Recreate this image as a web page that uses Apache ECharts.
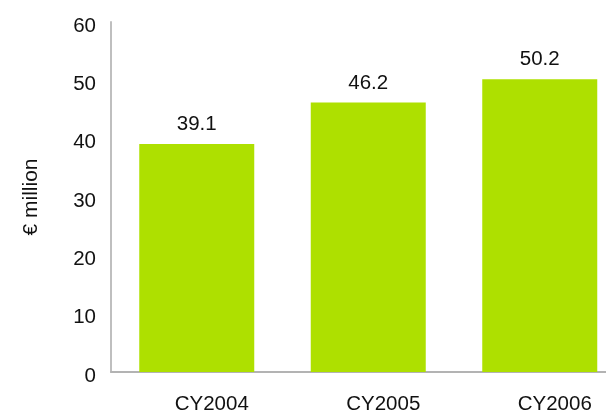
<!DOCTYPE html>
<html>
<head>
<meta charset="utf-8">
<script src="https://cdn.jsdelivr.net/npm/echarts@6/dist/echarts.min.js"></script>
<style>html,body{margin:0;padding:0;background:#fff}#c{width:606px;height:411px}</style>
</head>
<body>
<div id="c"></div>
<script>
const categories = ['CY2004', 'CY2005', 'CY2006'];
const values = [39.1, 46.2, 50.2];
const yTicks = [0, 10, 20, 30, 40, 50, 60];
const yName = '€ million';

const chart = echarts.init(document.getElementById('c'), null, {renderer: 'canvas'});
const font = 'Liberation Sans, Arial, sans-serif';
chart.setOption({
  animation: false,
  grid: {left: 111, top: 22, bottom: 39, width: 514.5, containLabel: false, outerBoundsMode: 'none'},
  xAxis: {
    type: 'category',
    data: categories,
    axisLine: {lineStyle: {color: '#b3b3b3', width: 2}},
    axisTick: {show: false},
    axisLabel: {color: '#111', fontFamily: font, fontSize: 20.5, margin: 22, padding: [0, 0, 0, 30]}
  },
  yAxis: {
    type: 'value',
    min: yTicks[0],
    max: yTicks[yTicks.length - 1],
    interval: 10,
    name: yName,
    nameLocation: 'middle',
    nameGap: 69,
    nameTextStyle: {color: '#111', fontFamily: font, fontSize: 21},
    axisLine: {show: true, lineStyle: {color: '#bfbfbf', width: 2}},
    axisTick: {show: false},
    splitLine: {show: false},
    axisLabel: {color: '#111', fontFamily: font, fontSize: 20.5, margin: 15,
      formatter: '{a|{value}}',
      rich: {a: {fontFamily: font, fontSize: 20.5, color: '#111', padding: [8, 0, 0, 0]}}}
  },
  series: [{
    type: 'bar',
    data: values,
    barWidth: 115,
    itemStyle: {color: '#aee000'},
    label: {show: true, position: 'top', distance: 9, color: '#111', fontFamily: font, fontSize: 20.5,
      formatter: p => p.value.toFixed(1)}
  }]
});
</script>
</body>
</html>
